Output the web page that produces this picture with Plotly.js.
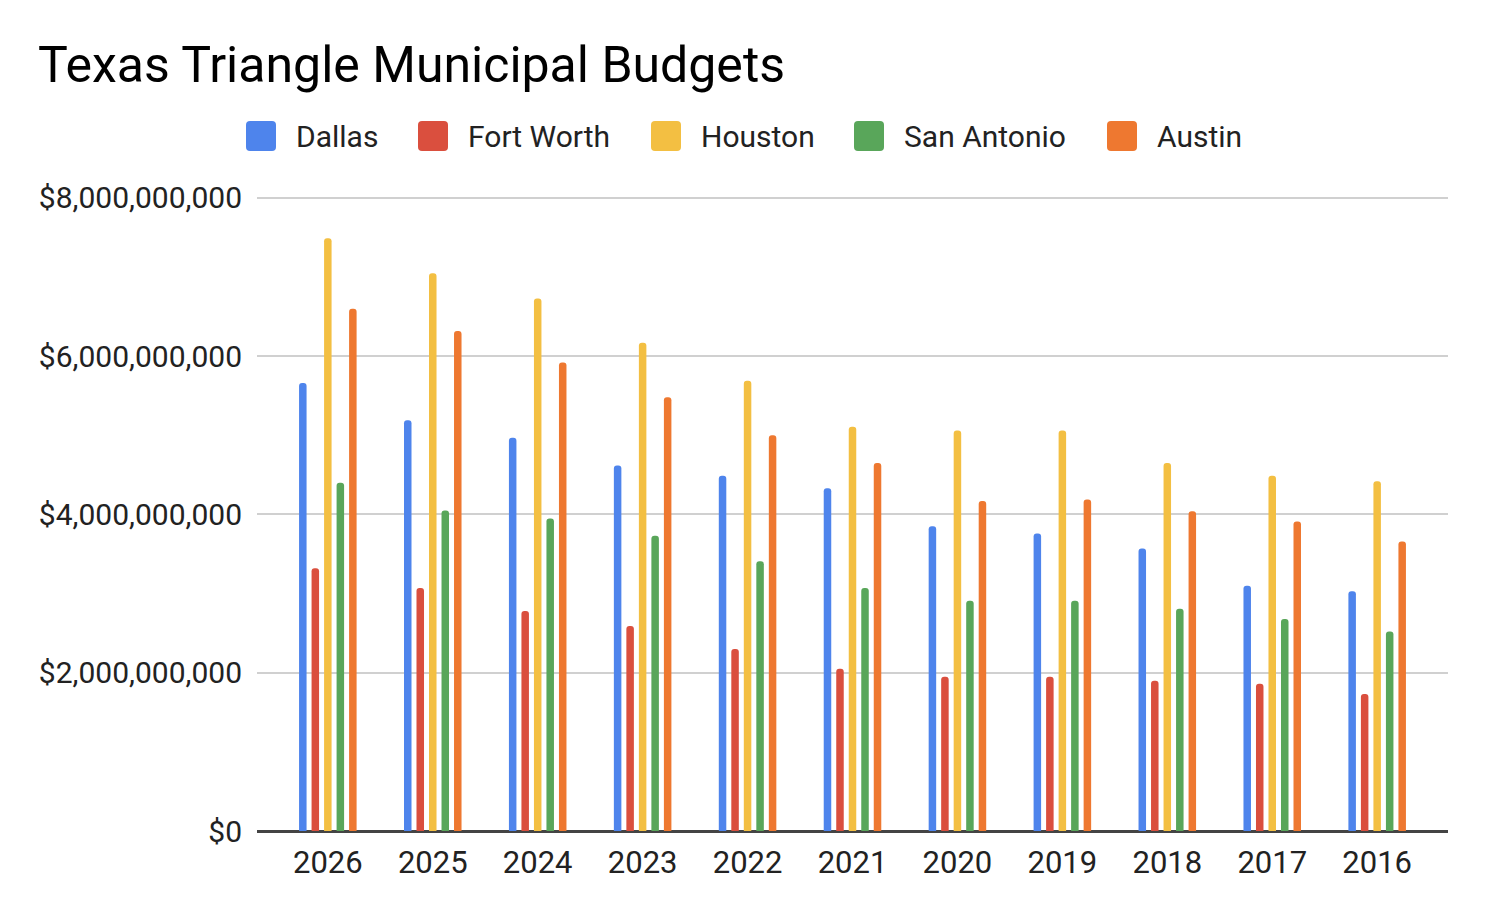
<!DOCTYPE html>
<html>
<head>
<meta charset="utf-8">
<script src="https://cdn.plot.ly/plotly-3.0.1.min.js"></script>
<style>
  html, body { margin: 0; padding: 0; background: #ffffff; }
  #chart { width: 1486px; height: 910px; }
</style>
</head>
<body>
<div id="chart"></div>
<script>
const years = ["2026", "2025", "2024", "2023", "2022", "2021", "2020", "2019", "2018", "2017", "2016"];
const cities = ["Dallas", "Fort Worth", "Houston", "San Antonio", "Austin"];
const dallas = [5.66e9, 5.19e9, 4.97e9, 4.62e9, 4.49e9, 4.33e9, 3.85e9, 3.76e9, 3.57e9, 3.10e9, 3.03e9];
const fortWorth = [3.32e9, 3.07e9, 2.78e9, 2.59e9, 2.30e9, 2.05e9, 1.95e9, 1.95e9, 1.90e9, 1.86e9, 1.73e9];
const houston = [7.49e9, 7.05e9, 6.73e9, 6.17e9, 5.69e9, 5.11e9, 5.06e9, 5.06e9, 4.65e9, 4.49e9, 4.42e9];
const sanAntonio = [4.40e9, 4.05e9, 3.95e9, 3.73e9, 3.41e9, 3.07e9, 2.91e9, 2.91e9, 2.81e9, 2.68e9, 2.52e9];
const austin = [6.60e9, 6.32e9, 5.92e9, 5.48e9, 5.00e9, 4.65e9, 4.17e9, 4.19e9, 4.04e9, 3.91e9, 3.66e9];
const yTicks = [0, 2e9, 4e9, 6e9, 8e9];

const series = [dallas, fortWorth, houston, sanAntonio, austin];
const colors = ["#4e84ec", "#da4f3e", "#f3bf42", "#59a65a", "#ee7830"];

const W = 1486, H = 910;
const margin = { l: 257, r: 38, t: 194, b: 79 };
const plotW = W - margin.l - margin.r;
const plotH = H - margin.t - margin.b;
// pixel -> paper coordinates (for the hand-drawn legend)
const px = (x) => (x - margin.l) / plotW;
const py = (y) => (H - margin.b - y) / plotH;

const traces = series.map((vals, i) => ({
  type: "bar",
  name: cities[i],
  x: years,
  y: vals,
  marker: { color: colors[i], line: { width: 0 }, cornerradius: "50%" },
  showlegend: false,
  hovertemplate: "%{x}<br>" + cities[i] + ": %{y:$,.0f}<extra></extra>",
}));

// legend: rounded squares + labels, like the Sheets legend
const legendX = [246, 418, 651, 854, 1107];
const legendY = 136;
const sq = 30, rad = 4;
const shapes = [];
const annotations = [];
legendX.forEach((lx, i) => {
  const x0 = lx, x1 = lx + sq, y0 = legendY - sq / 2, y1 = legendY + sq / 2;
  const p = (x, y) => px(x) + "," + py(y);
  const path =
    "M" + p(x0 + rad, y0) + " L" + p(x1 - rad, y0) + " Q" + p(x1, y0) + " " + p(x1, y0 + rad) +
    " L" + p(x1, y1 - rad) + " Q" + p(x1, y1) + " " + p(x1 - rad, y1) +
    " L" + p(x0 + rad, y1) + " Q" + p(x0, y1) + " " + p(x0, y1 - rad) +
    " L" + p(x0, y0 + rad) + " Q" + p(x0, y0) + " " + p(x0 + rad, y0) + " Z";
  shapes.push({
    type: "path", xref: "paper", yref: "paper", path: path,
    fillcolor: colors[i], line: { width: 0 }, layer: "above",
  });
  annotations.push({
    text: cities[i], xref: "paper", yref: "paper",
    x: px(lx + sq + 18), y: py(legendY), xanchor: "left", yanchor: "middle",
    showarrow: false, font: { family: "Roboto, sans-serif", size: 30, color: "#222222" },
  });
});

const layout = {
  width: W,
  height: H,
  margin: margin,
  paper_bgcolor: "#ffffff",
  plot_bgcolor: "#ffffff",
  font: { family: "Roboto, sans-serif", size: 30, color: "#222222" },
  title: {
    text: "Texas Triangle Municipal Budgets",
    font: { family: "Roboto, sans-serif", size: 50, color: "#000000" },
    xref: "container", yref: "container",
    x: 38 / W, xanchor: "left",
    y: 1 - 64 / H, yanchor: "middle",
  },
  barmode: "group",
  bargap: 0.404,
  bargroupgap: 0.4,
  xaxis: {
    type: "category",
    range: [-0.675, 10.675],
    showgrid: false,
    showline: false,
    ticks: "",
    ticklabelstandoff: 10,
    tickfont: { size: 31, color: "#222222" },
    fixedrange: true,
  },
  yaxis: {
    range: [0, 8.05e9],
    tickvals: yTicks,
    tickformat: "$,.0f",
    gridcolor: "#d0d0d0",
    gridwidth: 2,
    zeroline: true,
    zerolinecolor: "#444444",
    zerolinewidth: 3,
    showline: false,
    ticks: "",
    ticklabelstandoff: 14,
    tickfont: { size: 30, color: "#222222" },
    fixedrange: true,
  },
  shapes: shapes,
  annotations: annotations,
};

Plotly.newPlot("chart", traces, layout, { displayModeBar: false, responsive: false });
</script>
</body>
</html>
